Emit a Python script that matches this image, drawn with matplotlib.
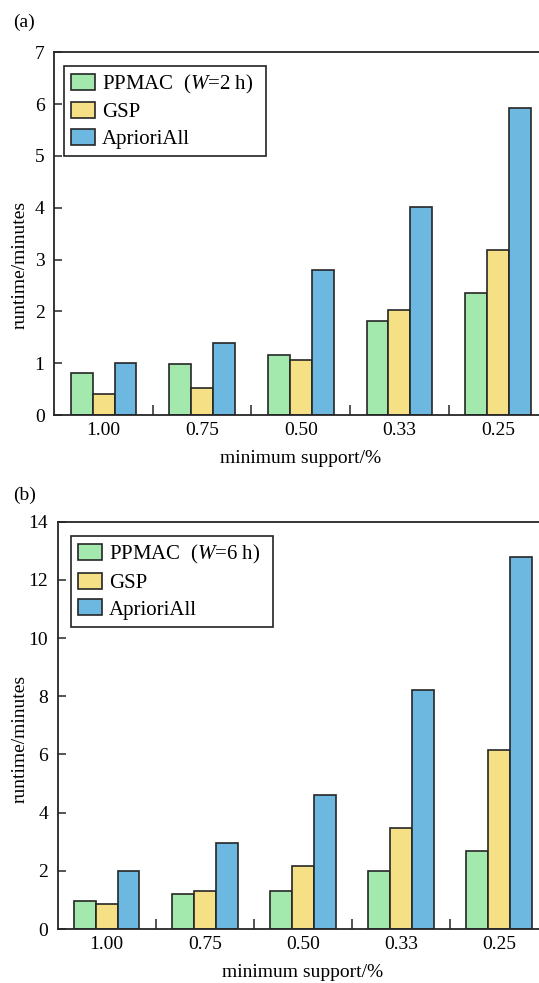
import matplotlib
matplotlib.use("Agg")
import matplotlib.pyplot as plt
import numpy as np

plt.rcParams['font.family'] = ['Liberation Serif', 'Noto Sans CJK SC']
plt.rcParams['mathtext.fontset'] = 'custom'
plt.rcParams['mathtext.rm'] = 'Liberation Serif'
plt.rcParams['mathtext.it'] = 'Liberation Serif:italic'

categories = ["1.00", "0.75", "0.50", "0.33", "0.25"]
series_names_a = ["PPMAC  ($\\mathit{W}$=2 h)  ", "GSP", "AprioriAll"]
series_names_b = ["PPMAC  ($\\mathit{W}$=6 h)  ", "GSP", "AprioriAll"]

ppmac_a = [0.82, 0.99, 1.15, 1.82, 2.35]
gsp_a = [0.41, 0.53, 1.06, 2.02, 3.19]
apriori_a = [1.00, 1.38, 2.80, 4.01, 5.92]

ppmac_b = [0.95, 1.21, 1.30, 2.00, 2.69]
gsp_b = [0.87, 1.29, 2.17, 3.46, 6.14]
apriori_b = [2.00, 2.95, 4.59, 8.21, 12.79]

yticks_a = [0, 1, 2, 3, 4, 5, 6, 7]
yticks_b = [0, 2, 4, 6, 8, 10, 12, 14]

colors = ['#a3e9ae', '#f5e086', '#6db8e0']
edge = '#262626'

W, H = 539, 983
fig = plt.figure(figsize=(W / 100, H / 100), dpi=100)


def make_panel(rect_px, series, names, yticks, legend_anchor, ylabel_xy, panel_label, panel_xy):
    left, top, right, bottom = rect_px
    ax = fig.add_axes([left / W, 1 - bottom / H, (right - left) / W, (bottom - top) / H])
    x = np.arange(len(categories))
    bw = 0.222
    for i, (vals, c, n) in enumerate(zip(series, colors, names)):
        ax.bar(x + (i - 1) * bw, vals, width=bw, color=c, edgecolor=edge,
               linewidth=1.2, label=n, zorder=2)
    ax.set_xlim(-0.5, len(categories) - 0.5)
    ax.set_ylim(yticks[0], yticks[-1])
    ax.set_yticks(yticks)
    ax.set_xticks(x)
    ax.set_xticklabels(categories)
    ax.set_xticks(x[:-1] + 0.5, minor=True)
    ax.tick_params(axis='x', which='major', length=0, pad=5, labelsize=14)
    ax.tick_params(axis='x', which='minor', direction='in', length=7, width=1.1, color=edge)
    ax.tick_params(axis='y', which='major', direction='in', length=6, width=1.1,
                   color=edge, pad=7, labelsize=14)
    for s in ['top', 'left', 'bottom']:
        ax.spines[s].set_color(edge)
        ax.spines[s].set_linewidth(1.3)
    ax.spines['right'].set_visible(False)
    ax.set_ylabel("runtime/minutes", fontsize=14)
    ax.yaxis.set_label_coords(*ylabel_xy)
    ax.yaxis.label.set_verticalalignment('center')
    ax.set_xlabel("minimum support/%", fontsize=14)
    ax.xaxis.set_label_coords(0.5, -48 / (bottom - top))
    ax.xaxis.label.set_verticalalignment('baseline')
    leg = ax.legend(loc='upper left', bbox_to_anchor=legend_anchor, borderaxespad=0,
                    fontsize=15, fancybox=False, framealpha=1, edgecolor='#222222',
                    handlelength=1.18, handleheight=0.8, handletextpad=0.3,
                    borderpad=0.33, labelspacing=0.32)
    leg.get_frame().set_linewidth(1.2)
    fig.text(panel_xy[0] / W, 1 - panel_xy[1] / H, panel_label, fontsize=14,
             ha='center', va='center')
    return ax


make_panel((54.3, 52.3, 547.3, 415), [ppmac_a, gsp_a, apriori_a], series_names_a, yticks_a,
           ((64 - 54.3) / 493, (415 - 65.7) / 362.7),
           ((20 - 54.3) / 493, (415 - 265) / 362.7), "(a)", (24, 22))

make_panel((57.7, 521.7, 548.2, 929), [ppmac_b, gsp_b, apriori_b], series_names_b, yticks_b,
           ((71 - 57.7) / 490.5, (929 - 536) / 407.3),
           ((20.6 - 57.7) / 490.5, (929 - 739) / 407.3), "(b)", (25, 495))

fig.savefig("out.png", dpi=100)
